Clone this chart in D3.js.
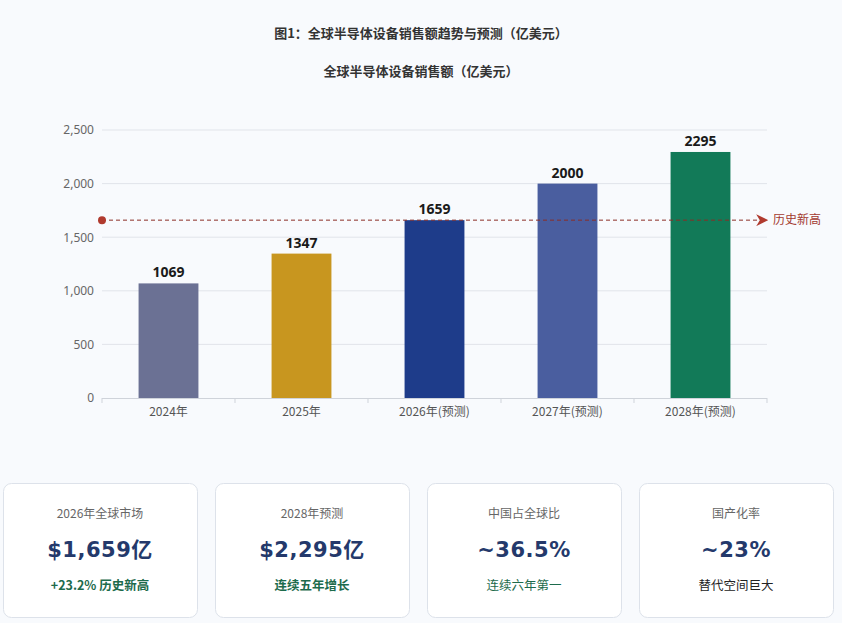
<!DOCTYPE html>
<html><head><meta charset="utf-8">
<script src="https://cdn.jsdelivr.net/npm/d3@7"></script>
<style>
html,body{margin:0;padding:0;background:#f8fafd;}
body{width:842px;height:623px;overflow:hidden;font-family:"Noto Sans CJK SC","Noto Sans",sans-serif;}
</style></head>
<body><svg id="c" width="842" height="623"></svg>
<script>
const categories = ["2024年","2025年","2026年(预测)","2027年(预测)","2028年(预测)"];
const values = [1069,1347,1659,2000,2295];
const barColors = ["#6b7194","#c8961f","#1e3c8a","#4a5e9f","#127a58"];
const yTicks = [0,500,1000,1500,2000,2500];
const recordValue = 1659;
const recordLabel = "历史新高";
const title1 = "图1：全球半导体设备销售额趋势与预测（亿美元）";
const title2 = "全球半导体设备销售额（亿美元）";
const cardLabels = ["2026年全球市场","2028年预测","中国占全球比","国产化率"];
const cardValues = ["$1,659亿","$2,295亿","~36.5%","~23%"];
const cardNotes = ["+23.2% 历史新高","连续五年增长","连续六年第一","替代空间巨大"];
const cardNoteColors = ["#1d6b4c","#1d6b4c","#1d6b4c","#222"];
const cardNoteWeights = ["bold","bold","normal","normal"];

const svg = d3.select("#c");
const defs = svg.append("defs");
defs.append("marker").attr("id","arr").attr("viewBox","0 0 10 10").attr("refX",9).attr("refY",5)
  .attr("markerWidth",12).attr("markerHeight",12).attr("markerUnits","userSpaceOnUse").attr("orient","auto")
  .append("path").attr("d","M0,0 L10,5 L0,10 L3,5 Z").attr("fill","#b03a2e");

svg.append("text").attr("x",421).attr("y",38).attr("text-anchor","middle")
  .attr("font-size",13).attr("font-weight","bold").attr("fill","#333").text(title1);
svg.append("text").attr("x",421).attr("y",76).attr("text-anchor","middle")
  .attr("font-size",13).attr("font-weight","bold").attr("fill","#333").text(title2);

const L=102,R=767,T=130,B=398;
const x = d3.scaleBand().domain(categories).range([L,R]).paddingInner(0.55).paddingOuter(0.275);
const xb = d3.scaleBand().domain(categories).range([L,R]);
const y = d3.scaleLinear().domain([0,2500]).range([B,T]);

// grid
svg.append("g").selectAll("line").data(yTicks.filter(d=>d>0)).join("line")
  .attr("x1",L).attr("x2",R).attr("y1",d=>y(d)).attr("y2",d=>y(d))
  .attr("stroke","#e1e4ea").attr("stroke-width",1);

// y axis labels
const ya = svg.append("g").attr("transform",`translate(${L},0)`)
  .call(d3.axisLeft(y).tickValues(yTicks).tickSize(0).tickPadding(8).tickFormat(d3.format(",")));
ya.select(".domain").remove();
ya.selectAll("text").attr("font-size",12).attr("fill","#666").attr("font-family","'Noto Sans','Noto Sans CJK SC',sans-serif");

// bars
svg.append("g").selectAll("rect").data(values).join("rect")
  .attr("x",(d,i)=>x(categories[i])).attr("width",x.bandwidth())
  .attr("y",d=>y(d)).attr("height",d=>B-y(d)).attr("fill",(d,i)=>barColors[i]);

// value labels
svg.append("g").selectAll("text").data(values).join("text")
  .attr("x",(d,i)=>x(categories[i])+x.bandwidth()/2).attr("y",d=>y(d)-6)
  .attr("text-anchor","middle").attr("font-size",14).attr("font-weight","bold").attr("fill","#1a1a1a")
  .attr("font-family","'Noto Sans',sans-serif").text(d=>d);

// x axis
svg.append("line").attr("x1",L).attr("x2",R).attr("y1",B+0.5).attr("y2",B+0.5).attr("stroke","#cfd3da");
svg.append("g").selectAll("line").data(categories.map(c=>xb(c)).concat([R])).join("line")
  .attr("x1",d=>d).attr("x2",d=>d).attr("y1",B).attr("y2",B+5).attr("stroke","#cfd3da");
svg.append("g").selectAll("text").data(categories).join("text")
  .attr("x",d=>xb(d)+xb.bandwidth()/2).attr("y",B+18).attr("text-anchor","middle")
  .attr("font-size",12).attr("fill","#555").text(d=>d);

// record line
const ry = y(recordValue);
svg.append("line").attr("x1",L).attr("x2",R).attr("y1",ry).attr("y2",ry)
  .attr("stroke","#8b2e26").attr("stroke-width",1).attr("stroke-dasharray","4,3").attr("marker-end","url(#arr)");
svg.append("circle").attr("cx",L).attr("cy",ry).attr("r",4).attr("fill","#b03a2e");
svg.append("text").attr("x",R+6).attr("y",ry+4).attr("font-size",12).attr("fill","#a3392f").text(recordLabel);

// cards
const cw=194, ch=134, cy=483, cxs=[3,215,427,639];
const cards = svg.append("g").selectAll("g").data(cardLabels).join("g")
  .attr("transform",(d,i)=>`translate(${cxs[i]},${cy})`);
cards.append("rect").attr("x",0.5).attr("y",0.5).attr("width",cw).attr("height",ch).attr("rx",8)
  .attr("fill","#fff").attr("stroke","#dde2ea");
cards.append("text").attr("x",cw/2).attr("y",35).attr("text-anchor","middle").attr("font-size",12)
  .attr("fill","#666").text(d=>d);
cards.append("text").attr("x",cw/2).attr("y",74).attr("text-anchor","middle").attr("font-size",21)
  .attr("font-weight","bold").attr("fill","#24396b").attr("letter-spacing","0.5")
  .attr("font-family","'DejaVu Sans','Noto Sans CJK SC',sans-serif").text((d,i)=>cardValues[i]);
cards.append("text").attr("x",cw/2).attr("y",107).attr("text-anchor","middle").attr("font-size",12.5)
  .attr("font-weight",(d,i)=>cardNoteWeights[i]).attr("fill",(d,i)=>cardNoteColors[i]).text((d,i)=>cardNotes[i]);
</script></body></html>
